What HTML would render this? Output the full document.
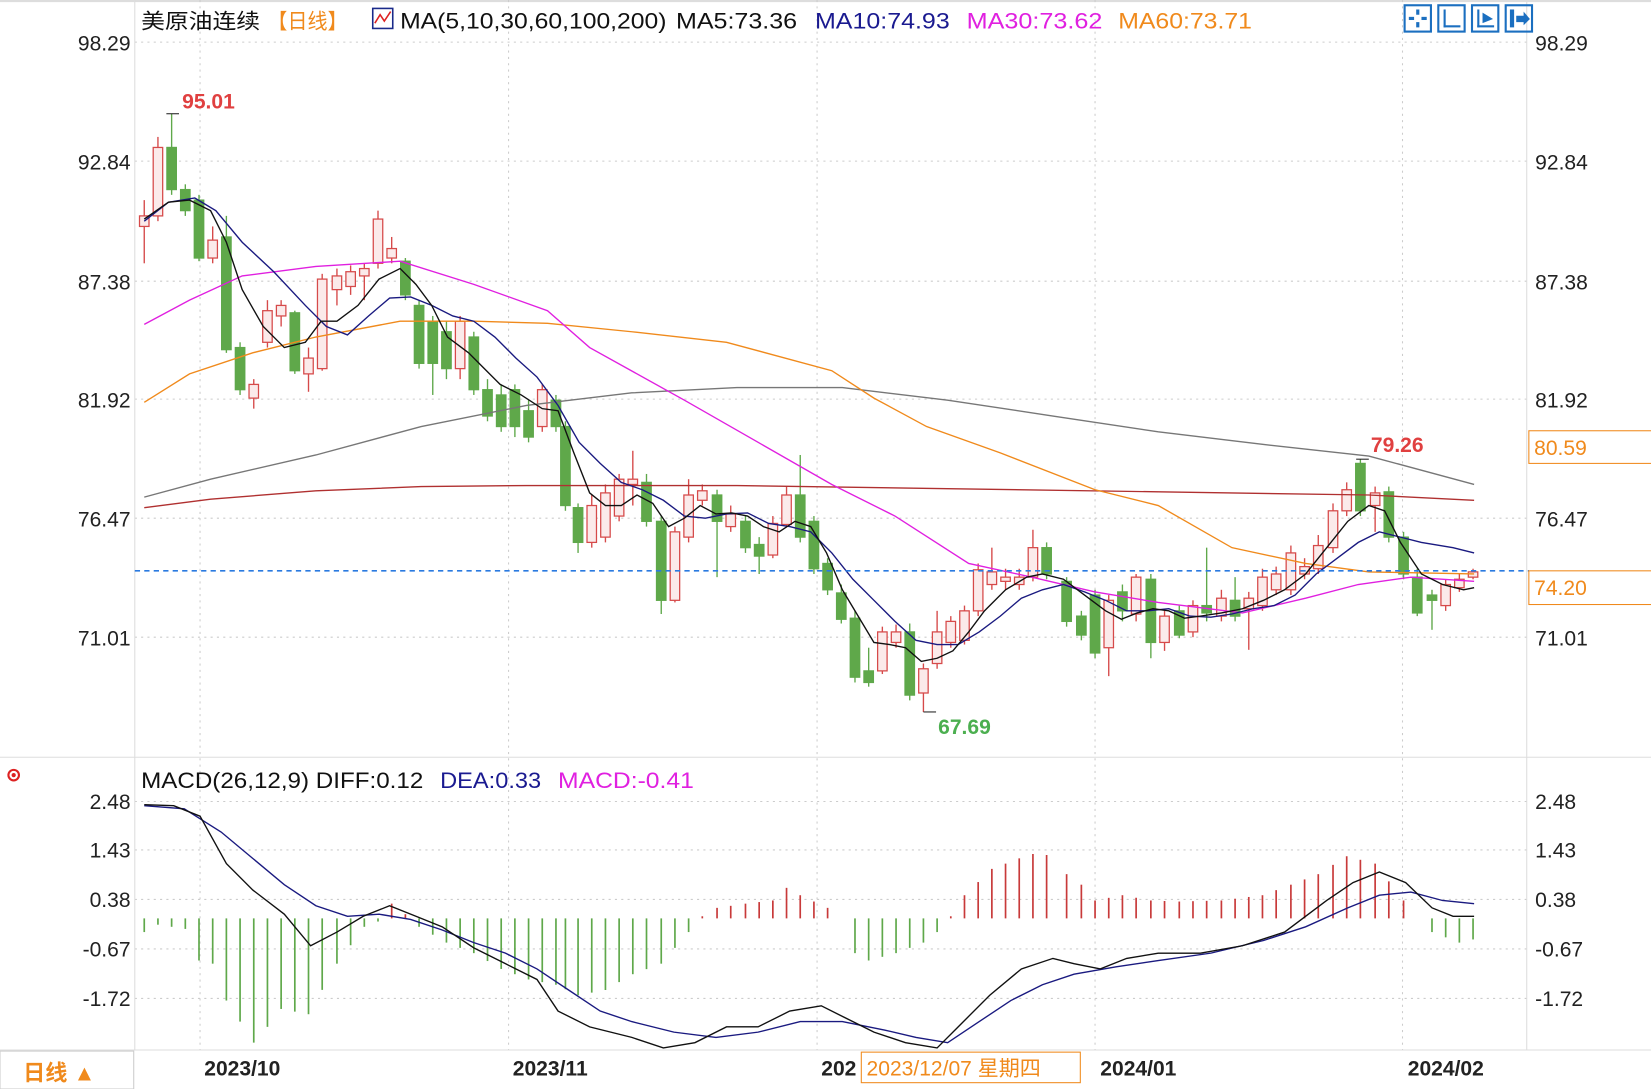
<!DOCTYPE html>
<html><head><meta charset="utf-8"><style>
html,body{margin:0;padding:0;background:#fff;overflow:hidden}
svg{display:block}
text{font-family:"Liberation Sans","Noto Sans CJK SC",sans-serif}
</style></head><body>
<svg id="s" width="1651" height="1089" viewBox="0 0 1568 1034" preserveAspectRatio="none" xmlns="http://www.w3.org/2000/svg">
<rect width="1568" height="1034" fill="#fff"/>
<line x1="0" y1="1" x2="1568" y2="1" stroke="#ddd" stroke-width="2"/>
<g id="grid" stroke="#ccc" stroke-dasharray="2,4" stroke-width="1"></g>
<line x1="128" y1="0" x2="128" y2="997" stroke="#ddd"/>
<line x1="1450" y1="0" x2="1450" y2="997" stroke="#ddd"/>
<line x1="0" y1="719" x2="1568" y2="719" stroke="#ddd"/>
<line x1="0" y1="997" x2="1568" y2="997" stroke="#ddd"/>
<g id="main"></g>
<g id="macd"></g>
<!-- header -->
<text x="134" y="27" font-size="20" fill="#111" textLength="113" lengthAdjust="spacingAndGlyphs">美原油连续</text>
<text x="254" y="27" font-size="20" fill="#f08a1c" textLength="76" lengthAdjust="spacingAndGlyphs">【日线】</text>
<rect x="354" y="8" width="19" height="19" fill="#fff" stroke="#1a2a8a" stroke-width="1.5"/>
<polyline points="356,22 361,14 365,20 371,11" fill="none" stroke="#d22" stroke-width="1.5"/>
<text x="380" y="27" font-size="21" fill="#111" textLength="253" lengthAdjust="spacingAndGlyphs">MA(5,10,30,60,100,200)</text>
<text x="642" y="27" font-size="21" fill="#111" textLength="115" lengthAdjust="spacingAndGlyphs">MA5:73.36</text>
<text x="774" y="27" font-size="21" fill="#1a1a90" textLength="128" lengthAdjust="spacingAndGlyphs">MA10:74.93</text>
<text x="918" y="27" font-size="21" fill="#e020e0" textLength="129" lengthAdjust="spacingAndGlyphs">MA30:73.62</text>
<text x="1062" y="27" font-size="21" fill="#f08a1c" textLength="127" lengthAdjust="spacingAndGlyphs">MA60:73.71</text>
<g fill="none" stroke="#1b6fc0" stroke-width="2">
<rect x="1334" y="5" width="25" height="25"/><rect x="1366" y="5" width="25" height="25"/>
<rect x="1398" y="5" width="25" height="25"/><rect x="1430" y="5" width="25" height="25"/>
</g>
<g fill="#1b6fc0"><rect x="1345" y="9" width="3" height="5"/><rect x="1345" y="21" width="3" height="5"/><rect x="1338" y="16" width="5" height="3"/><rect x="1350" y="16" width="5" height="3"/>
<rect x="1371" y="9" width="2" height="17"/><rect x="1371" y="24" width="16" height="2"/><rect x="1403" y="9" width="2" height="17"/><rect x="1403" y="24" width="16" height="2"/><polygon points="1408,12 1418,18 1408,22"/><rect x="1434" y="9" width="4" height="17"/><polygon points="1440,15 1447,15 1447,11 1453,18 1447,24 1447,21 1440,21"/></g>
<!-- axis labels -->
<g font-size="20" fill="#222">
<text x="124" y="48" text-anchor="end">98.29</text><text x="1458" y="48">98.29</text>
<text x="124" y="161" text-anchor="end">92.84</text><text x="1458" y="161">92.84</text>
<text x="124" y="275" text-anchor="end">87.38</text><text x="1458" y="275">87.38</text>
<text x="124" y="387" text-anchor="end">81.92</text><text x="1458" y="387">81.92</text>
<text x="124" y="500" text-anchor="end">76.47</text><text x="1458" y="500">76.47</text>
<text x="124" y="613" text-anchor="end">71.01</text><text x="1458" y="613">71.01</text>
<text x="124" y="768" text-anchor="end">2.48</text><text x="1458" y="768">2.48</text>
<text x="124" y="814" text-anchor="end">1.43</text><text x="1458" y="814">1.43</text>
<text x="124" y="861" text-anchor="end">0.38</text><text x="1458" y="861">0.38</text>
<text x="124" y="908" text-anchor="end">-0.67</text><text x="1458" y="908">-0.67</text>
<text x="124" y="955" text-anchor="end">-1.72</text><text x="1458" y="955">-1.72</text>
</g>
<line x1="128" y1="542" x2="1452" y2="542" stroke="#2a7ae0" stroke-dasharray="5,4" stroke-width="1.5"/>
<rect x="1452" y="409" width="120" height="31" fill="#fff" stroke="#f08a1c"/>
<text x="1457" y="432" font-size="20" fill="#f08a1c">80.59</text>
<rect x="1452" y="542" width="120" height="32" fill="#fff" stroke="#f08a1c"/>
<text x="1457" y="565" font-size="20" fill="#f08a1c">74.20</text>
<text x="173" y="103" font-size="20" font-weight="bold" fill="#e04040">95.01</text>
<text x="891" y="697" font-size="20" font-weight="bold" fill="#4caf50">67.69</text>
<text x="1302" y="429" font-size="20" font-weight="bold" fill="#e04040">79.26</text>
<!-- macd header -->
<circle cx="13" cy="736" r="5" fill="none" stroke="#d22" stroke-width="2"/><circle cx="13" cy="736" r="2" fill="#d22"/>
<text x="134" y="748" font-size="21" fill="#111" textLength="268" lengthAdjust="spacingAndGlyphs">MACD(26,12,9) DIFF:0.12</text>
<text x="418" y="748" font-size="21" fill="#1a1a90" textLength="96" lengthAdjust="spacingAndGlyphs">DEA:0.33</text>
<text x="530" y="748" font-size="21" fill="#e020e0" textLength="129" lengthAdjust="spacingAndGlyphs">MACD:-0.41</text>
<!-- bottom -->
<rect x="0" y="998" width="127" height="36" fill="#fff" stroke="#ccc"/>
<text x="22" y="1026" font-size="21" font-weight="bold" fill="#f08a1c">日线 ▲</text>
<g font-size="20" font-weight="bold" fill="#222">
<text x="194" y="1021">2023/10</text><text x="487" y="1021">2023/11</text><text x="780" y="1021">202</text>
<text x="1045" y="1021">2024/01</text><text x="1337" y="1021">2024/02</text></g>
<rect x="818" y="999" width="208" height="29" fill="#fff" stroke="#f08a1c"/>
<text x="823" y="1021" font-size="20" fill="#f08a1c">2023/12/07 星期四</text>
</svg>
<script>
var NS="http://www.w3.org/2000/svg";
function el(p,t,a){var e=document.createElementNS(NS,t);for(var k in a)e.setAttribute(k,a[k]);p.appendChild(e);return e;}
var g=document.getElementById('grid');
[40,153,267,379,492,605,761,807,854,901,948].forEach(function(y){el(g,'line',{x1:128,y1:y,x2:1450,y2:y});});
[190,483,776,1040,1332].forEach(function(x){el(g,'line',{x1:x,y1:0,x2:x,y2:997});});
var C=[
[137,'r',205,215,190,250],[150,'r',140,205,130,210],[163,'g',140,180,108,185],[176,'g',180,200,175,205],[189,'g',190,245,185,248],[202,'r',228,245,215,250],[215,'g',225,332,205,335],[228,'g',330,370,325,375],[241,'r',365,378,360,388],[254,'r',295,325,285,330],[267,'r',290,300,285,310],[280,'g',297,352,295,355],[293,'r',340,355,330,372],[306,'r',265,350,260,352],[320,'r',262,275,255,290],[333,'r',258,272,252,280],[346,'r',255,262,250,285],[359,'r',208,250,200,255],[372,'r',236,245,225,250],[385,'g',248,280,245,285],[398,'g',290,345,285,350],[411,'g',305,345,300,375],[424,'g',315,350,305,360],[437,'r',305,350,300,360],[450,'g',320,370,315,375],[463,'g',370,395,360,400],[476,'g',375,405,365,410],[489,'g',370,405,365,415],[502,'g',390,415,380,420],[515,'r',370,405,365,410],[528,'g',380,405,375,410],[537,'g',405,480,400,485],[549,'g',482,515,478,525],[562,'r',480,515,470,520],[575,'r',468,510,460,515],[588,'r',455,490,450,495],[601,'r',455,460,428,480],[614,'g',458,495,450,500],[628,'g',495,570,490,583],[641,'r',505,570,500,572],[654,'r',470,510,455,515],[667,'r',466,475,460,480],[681,'g',470,495,465,548],[694,'r',488,500,480,505],[708,'g',495,520,490,525],[721,'g',517,528,510,545],[734,'r',497,527,490,530],[747,'r',470,498,462,500],[760,'g',470,510,432,515],[773,'g',495,540,490,545],[786,'g',535,560,530,565],[799,'g',563,588,555,592],[812,'g',587,643,580,648],[825,'g',637,648,615,652],[838,'r',600,637,595,640],[851,'r',600,610,593,615],[864,'g',600,660,592,665],[877,'r',635,658,630,676],[890,'r',600,630,580,635],[903,'r',590,610,585,615],[916,'r',580,608,575,612],[929,'r',541,580,535,585],[942,'r',543,555,520,560],[955,'r',548,552,540,560],[968,'r',548,555,540,560],[981,'r',520,548,503,552],[994,'g',520,545,515,550],[1013,'g',552,590,548,595],[1027,'g',585,603,580,608],[1040,'g',565,620,560,625],[1053,'r',570,615,565,642],[1066,'g',562,580,555,590],[1079,'r',548,583,545,590],[1093,'g',550,610,545,625],[1106,'r',585,610,580,618],[1120,'g',580,603,575,606],[1133,'r',575,600,570,605],[1146,'g',575,582,520,590],[1160,'r',568,585,560,590],[1173,'g',570,585,548,590],[1186,'r',568,578,562,617],[1199,'r',548,575,540,580],[1212,'r',545,560,538,565],[1226,'r',525,560,518,565],[1239,'r',538,545,530,550],[1252,'r',518,540,508,545],[1266,'r',485,520,478,525],[1279,'r',465,485,458,490],[1292,'g',440,485,436,490],[1306,'r',468,480,462,505],[1319,'g',467,510,462,515],[1333,'g',510,545,505,550],[1346,'g',548,582,540,585],[1360,'g',565,570,560,598],[1373,'r',555,575,550,580],[1386,'r',550,558,545,562],[1399,'r',543,548,540,550]];
var m=document.getElementById('main');
C.forEach(function(c){var x=c[0],col=c[1]=='r'?'#d64a4a':'#5fa84a';var t=Math.min(c[2],c[3]),b=Math.max(c[2],c[3]);
el(m,'line',{x1:x,y1:c[4],x2:x,y2:c[5],stroke:col,'stroke-width':1.3});
el(m,'rect',{x:x-4.5,y:t,width:9,height:Math.max(b-t,1.5),fill:c[1]=='r'?'#fbeaea':col,stroke:col,'stroke-width':1.2});});
el(m,'line',{x1:158,y1:108,x2:170,y2:108,stroke:'#222'});el(m,'line',{x1:877,y1:676,x2:889,y2:676,stroke:'#222'});el(m,'line',{x1:1288,y1:436,x2:1300,y2:436,stroke:'#222'});
function pl(p,pts,col,w){el(p,'polyline',{points:pts.map(function(a){return a.join(',')}).join(' '),fill:'none',stroke:col,'stroke-width':w||1.3});}
pl(m,[[137,472],[200,455],[300,432],[400,405],[500,385],[600,373],[700,368],[800,368],[900,380],[1000,395],[1100,410],[1200,422],[1300,433],[1400,460]],'#777');
pl(m,[[137,482],[200,474],[300,466],[400,462],[500,461],[700,461],[900,464],[1100,467],[1300,470],[1400,475]],'#b03030');
pl(m,[[137,382],[180,355],[240,335],[300,320],[380,305],[450,305],[520,307],[600,315],[690,325],[790,352],[830,378],[880,405],[950,430],[1040,465],[1100,480],[1170,520],[1240,535],[1300,543],[1400,545]],'#f08a1c');
pl(m,[[137,308],[180,285],[230,262],[300,253],[380,248],[450,270],[520,295],[560,330],[650,380],[720,420],[790,460],[850,490],[920,535],[980,548],[1040,562],[1100,572],[1180,582],[1240,568],[1290,555],[1340,548],[1400,552]],'#e020e0');
pl(m,[[137,210],[160,192],[185,188],[205,200],[230,230],[260,258],[290,290],[310,310],[330,318],[350,300],[370,283],[390,282],[410,290],[430,300],[450,305],[470,320],[490,340],[510,358],[530,385],[550,420],[570,440],[590,458],[610,465],[630,475],[650,490],[670,492],[690,488],[710,487],[730,497],[750,500],[770,505],[790,525],[810,550],[830,570],[850,590],[870,608],[890,612],[910,612],[930,600],[950,585],[970,568],[990,560],[1010,555],[1030,562],[1050,570],[1070,580],[1090,580],[1110,578],[1130,585],[1150,586],[1170,583],[1190,578],[1210,575],[1230,565],[1250,545],[1270,530],[1290,515],[1310,505],[1330,510],[1350,515],[1380,520],[1400,525]],'#1a1a80');
pl(m,[[137,208],[160,192],[180,190],[200,200],[215,230],[230,275],[250,310],[270,330],[290,325],[305,305],[320,305],[340,290],[360,265],[380,255],[395,270],[410,290],[425,320],[445,335],[460,350],[475,365],[495,375],[515,388],[530,390],[545,430],[560,468],[575,480],[590,480],[605,470],[620,478],[635,500],[650,492],[665,480],[680,488],[695,487],[710,490],[725,500],[740,505],[755,495],[770,500],[785,525],[800,560],[815,585],[830,610],[845,612],[860,615],[875,628],[890,625],[905,618],[920,600],[935,580],[955,560],[975,548],[990,545],[1010,550],[1030,565],[1050,580],[1065,588],[1080,582],[1095,578],[1110,580],[1125,587],[1140,585],[1160,582],[1180,578],[1200,570],[1220,560],[1240,545],[1260,520],[1280,495],[1300,480],[1315,485],[1330,515],[1350,545],[1370,555],[1390,560],[1400,558]],'#111');
var H=[[137,885],[150,878],[176,882],[189,912],[202,915],[215,950],[241,990],[254,975],[267,958],[293,963],[320,915],[346,880],[359,875],[372,858],[385,868],[398,880],[424,895],[450,905],[476,920],[502,930],[528,935],[549,945],[575,940],[601,925],[628,915],[654,885],[667,870],[681,862],[708,858],[734,855],[747,843],[760,850],[786,862],[799,872],[812,905],[825,912],[851,905],[877,895],[890,885],[903,870],[916,850],[942,825],[968,815],[990,808],[1013,830],[1027,840],[1040,855],[1066,850],[1093,855],[1120,856],[1160,855],[1199,850],[1226,840],[1252,830],[1279,813],[1306,820],[1333,855],[1346,872],[1360,885],[1386,895],[1399,892]];
function interp(x){for(var i=0;i<H.length-1;i++){if(x>=H[i][0]&&x<=H[i+1][0]){var f=(x-H[i][0])/(H[i+1][0]-H[i][0]);return H[i][1]+f*(H[i+1][1]-H[i][1]);}}return H[H.length-1][1];}
var mc=document.getElementById('macd');
C.forEach(function(c){var y=interp(c[0]);if(Math.abs(y-872)<1)return;el(mc,'line',{x1:c[0],y1:872,x2:c[0],y2:y,stroke:y<872?'#c83a3a':'#5fa84a','stroke-width':1.6});});
pl(mc,[[137,765],[175,768],[210,790],[240,815],[270,840],[300,860],[330,870],[360,868],[390,873],[420,883],[450,895],[480,905],[510,920],[540,940],[570,960],[600,970],[640,980],[680,985],[720,980],[760,970],[800,970],[840,978],[870,985],[900,990],[930,970],[960,950],[990,935],[1020,925],[1060,918],[1100,912],[1150,905],[1200,893],[1240,880],[1280,862],[1310,850],[1340,847],[1370,855],[1400,858]],'#1a1a80');
pl(mc,[[137,764],[165,765],[190,775],[215,820],[240,845],[270,868],[295,898],[320,885],[345,870],[370,860],[395,870],[420,880],[450,900],[480,915],[510,930],[530,960],[560,975],[600,985],[630,995],[660,990],[690,975],[720,975],[750,960],[780,955],[800,965],[830,980],[860,990],[890,995],[910,975],[940,945],[970,920],[1000,910],[1020,915],[1045,920],[1070,910],[1100,905],[1140,905],[1180,898],[1220,885],[1260,855],[1285,838],[1310,828],[1335,838],[1360,862],[1380,870],[1400,870]],'#111');
</script>
</body></html>
